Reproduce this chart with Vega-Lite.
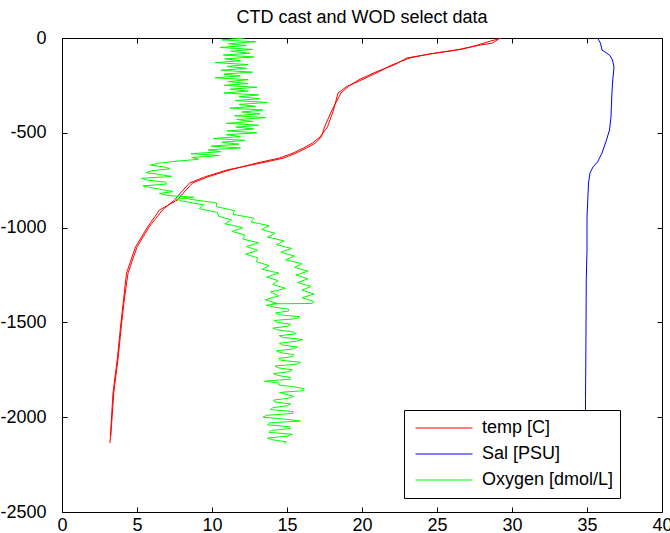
{
"$schema": "https://vega.github.io/schema/vega-lite/v6.json",
"width": 600, "height": 474,
"autosize": {"type": "none"},
"padding": {"left": 62, "top": 38, "right": 8, "bottom": 21},
"background": "white",
"title": {"text": "CTD cast and WOD select data", "fontSize": 18, "font": "Liberation Sans", "fontWeight": "normal", "color": "black", "offset": -12, "baseline": "alphabetic", "anchor": "middle"},
"config": {
  "view": {"stroke": null},
  "axis": {"grid": false, "domainColor": "black", "domainWidth": 1, "tickColor": "black", "tickWidth": 1, "tickSize": -5, "labelColor": "black", "labelFont": "Liberation Sans", "labelFontSize": 18, "title": null, "labelOverlap": false, "labelBound": false, "labelFlush": false}
},
"layer": [
  {
    "data": {"values": [
      {"v":"temp [C]","c":"CTD","d":0,"x":29.2},{"v":"temp [C]","c":"CTD","d":-27,"x":28.7},{"v":"temp [C]","c":"CTD","d":-37,"x":27.9},{"v":"temp [C]","c":"CTD","d":-63,"x":26.3},{"v":"temp [C]","c":"CTD","d":-84,"x":24.5},{"v":"temp [C]","c":"CTD","d":-105,"x":23.2},{"v":"temp [C]","c":"CTD","d":-142,"x":22.0},{"v":"temp [C]","c":"CTD","d":-179,"x":21.1},{"v":"temp [C]","c":"CTD","d":-220,"x":20.0},{"v":"temp [C]","c":"CTD","d":-255,"x":19.0},{"v":"temp [C]","c":"CTD","d":-290,"x":18.4},{"v":"temp [C]","c":"CTD","d":-380,"x":18.1},{"v":"temp [C]","c":"CTD","d":-469,"x":17.7},{"v":"temp [C]","c":"CTD","d":-522,"x":17.2},{"v":"temp [C]","c":"CTD","d":-554,"x":16.7},{"v":"temp [C]","c":"CTD","d":-580,"x":16.1},{"v":"temp [C]","c":"CTD","d":-607,"x":15.4},{"v":"temp [C]","c":"CTD","d":-633,"x":14.5},{"v":"temp [C]","c":"CTD","d":-659,"x":13.0},{"v":"temp [C]","c":"CTD","d":-696,"x":11.2},{"v":"temp [C]","c":"CTD","d":-733,"x":9.7},{"v":"temp [C]","c":"CTD","d":-765,"x":8.7},{"v":"temp [C]","c":"CTD","d":-817,"x":8.1},{"v":"temp [C]","c":"CTD","d":-854,"x":7.7},{"v":"temp [C]","c":"CTD","d":-907,"x":6.5},{"v":"temp [C]","c":"CTD","d":-997,"x":5.7},{"v":"temp [C]","c":"CTD","d":-1102,"x":4.9},{"v":"temp [C]","c":"CTD","d":-1240,"x":4.3},{"v":"temp [C]","c":"CTD","d":-1382,"x":4.1},{"v":"temp [C]","c":"CTD","d":-1524,"x":3.9},{"v":"temp [C]","c":"CTD","d":-1682,"x":3.7},{"v":"temp [C]","c":"CTD","d":-1872,"x":3.4},{"v":"temp [C]","c":"CTD","d":-2136,"x":3.2},
      {"v":"temp [C]","c":"WOD","d":0,"x":29.3},{"v":"temp [C]","c":"WOD","d":-20,"x":28.4},{"v":"temp [C]","c":"WOD","d":-40,"x":27.6},{"v":"temp [C]","c":"WOD","d":-60,"x":26.6},{"v":"temp [C]","c":"WOD","d":-80,"x":24.9},{"v":"temp [C]","c":"WOD","d":-105,"x":23.0},{"v":"temp [C]","c":"WOD","d":-140,"x":22.2},{"v":"temp [C]","c":"WOD","d":-180,"x":20.9},{"v":"temp [C]","c":"WOD","d":-220,"x":19.8},{"v":"temp [C]","c":"WOD","d":-255,"x":19.1},{"v":"temp [C]","c":"WOD","d":-290,"x":18.6},{"v":"temp [C]","c":"WOD","d":-380,"x":18.0},{"v":"temp [C]","c":"WOD","d":-469,"x":17.5},{"v":"temp [C]","c":"WOD","d":-520,"x":17.3},{"v":"temp [C]","c":"WOD","d":-554,"x":16.9},{"v":"temp [C]","c":"WOD","d":-580,"x":16.3},{"v":"temp [C]","c":"WOD","d":-607,"x":15.6},{"v":"temp [C]","c":"WOD","d":-633,"x":14.8},{"v":"temp [C]","c":"WOD","d":-659,"x":13.3},{"v":"temp [C]","c":"WOD","d":-696,"x":11.0},{"v":"temp [C]","c":"WOD","d":-733,"x":9.5},{"v":"temp [C]","c":"WOD","d":-765,"x":8.5},{"v":"temp [C]","c":"WOD","d":-817,"x":7.9},{"v":"temp [C]","c":"WOD","d":-854,"x":7.5},{"v":"temp [C]","c":"WOD","d":-907,"x":6.7},{"v":"temp [C]","c":"WOD","d":-997,"x":5.8},{"v":"temp [C]","c":"WOD","d":-1102,"x":5.0},{"v":"temp [C]","c":"WOD","d":-1240,"x":4.4},{"v":"temp [C]","c":"WOD","d":-1382,"x":4.15},{"v":"temp [C]","c":"WOD","d":-1524,"x":3.95},{"v":"temp [C]","c":"WOD","d":-1682,"x":3.75},{"v":"temp [C]","c":"WOD","d":-1872,"x":3.45},{"v":"temp [C]","c":"WOD","d":-2100,"x":3.25},
      {"v":"Sal [PSU]","c":"CTD","d":0,"x":35.7},{"v":"Sal [PSU]","c":"CTD","d":-27,"x":35.9},{"v":"Sal [PSU]","c":"CTD","d":-63,"x":36.0},{"v":"Sal [PSU]","c":"CTD","d":-90,"x":36.5},{"v":"Sal [PSU]","c":"CTD","d":-116,"x":36.7},{"v":"Sal [PSU]","c":"CTD","d":-153,"x":36.8},{"v":"Sal [PSU]","c":"CTD","d":-237,"x":36.7},{"v":"Sal [PSU]","c":"CTD","d":-311,"x":36.65},{"v":"Sal [PSU]","c":"CTD","d":-416,"x":36.6},{"v":"Sal [PSU]","c":"CTD","d":-485,"x":36.5},{"v":"Sal [PSU]","c":"CTD","d":-538,"x":36.3},{"v":"Sal [PSU]","c":"CTD","d":-607,"x":36.0},{"v":"Sal [PSU]","c":"CTD","d":-654,"x":35.7},{"v":"Sal [PSU]","c":"CTD","d":-680,"x":35.4},{"v":"Sal [PSU]","c":"CTD","d":-712,"x":35.2},{"v":"Sal [PSU]","c":"CTD","d":-765,"x":35.1},{"v":"Sal [PSU]","c":"CTD","d":-944,"x":35.0},{"v":"Sal [PSU]","c":"CTD","d":-1118,"x":35.0},{"v":"Sal [PSU]","c":"CTD","d":-1276,"x":34.95},{"v":"Sal [PSU]","c":"CTD","d":-1600,"x":34.93},{"v":"Sal [PSU]","c":"CTD","d":-1900,"x":34.9},{"v":"Sal [PSU]","c":"CTD","d":-2150,"x":34.9},
      {"v":"Oxygen [dmol/L]","c":"A","d":0,"x":12.2},{"v":"Oxygen [dmol/L]","c":"A","d":-10,"x":10.65},{"v":"Oxygen [dmol/L]","c":"A","d":-20,"x":12.9},{"v":"Oxygen [dmol/L]","c":"A","d":-30,"x":11.1},{"v":"Oxygen [dmol/L]","c":"A","d":-40,"x":12.3},{"v":"Oxygen [dmol/L]","c":"A","d":-50,"x":10.55},{"v":"Oxygen [dmol/L]","c":"A","d":-60,"x":12.7},{"v":"Oxygen [dmol/L]","c":"A","d":-70,"x":11.25},{"v":"Oxygen [dmol/L]","c":"A","d":-80,"x":12.5},{"v":"Oxygen [dmol/L]","c":"A","d":-90,"x":10.75},{"v":"Oxygen [dmol/L]","c":"A","d":-100,"x":12.8},{"v":"Oxygen [dmol/L]","c":"A","d":-110,"x":10.85},{"v":"Oxygen [dmol/L]","c":"A","d":-120,"x":11.9},{"v":"Oxygen [dmol/L]","c":"A","d":-130,"x":10.2},{"v":"Oxygen [dmol/L]","c":"A","d":-140,"x":12.4},{"v":"Oxygen [dmol/L]","c":"A","d":-150,"x":11.0},{"v":"Oxygen [dmol/L]","c":"A","d":-160,"x":12.3},{"v":"Oxygen [dmol/L]","c":"A","d":-170,"x":10.6},{"v":"Oxygen [dmol/L]","c":"A","d":-180,"x":12.7},{"v":"Oxygen [dmol/L]","c":"A","d":-190,"x":10.8},{"v":"Oxygen [dmol/L]","c":"A","d":-200,"x":11.9},{"v":"Oxygen [dmol/L]","c":"A","d":-210,"x":10.2},{"v":"Oxygen [dmol/L]","c":"A","d":-220,"x":12.4},{"v":"Oxygen [dmol/L]","c":"A","d":-230,"x":11.05},{"v":"Oxygen [dmol/L]","c":"A","d":-240,"x":12.4},{"v":"Oxygen [dmol/L]","c":"A","d":-250,"x":10.8},{"v":"Oxygen [dmol/L]","c":"A","d":-260,"x":13.0},{"v":"Oxygen [dmol/L]","c":"A","d":-270,"x":11.2},{"v":"Oxygen [dmol/L]","c":"A","d":-280,"x":12.4},{"v":"Oxygen [dmol/L]","c":"A","d":-290,"x":10.8},{"v":"Oxygen [dmol/L]","c":"A","d":-300,"x":13.1},{"v":"Oxygen [dmol/L]","c":"A","d":-310,"x":11.8},{"v":"Oxygen [dmol/L]","c":"A","d":-320,"x":13.2},{"v":"Oxygen [dmol/L]","c":"A","d":-330,"x":11.55},{"v":"Oxygen [dmol/L]","c":"A","d":-340,"x":13.7},{"v":"Oxygen [dmol/L]","c":"A","d":-350,"x":11.8},{"v":"Oxygen [dmol/L]","c":"A","d":-360,"x":12.9},{"v":"Oxygen [dmol/L]","c":"A","d":-370,"x":11.2},{"v":"Oxygen [dmol/L]","c":"A","d":-380,"x":13.4},{"v":"Oxygen [dmol/L]","c":"A","d":-390,"x":12.0},{"v":"Oxygen [dmol/L]","c":"A","d":-400,"x":13.2},{"v":"Oxygen [dmol/L]","c":"A","d":-410,"x":11.5},{"v":"Oxygen [dmol/L]","c":"A","d":-420,"x":13.6},{"v":"Oxygen [dmol/L]","c":"A","d":-430,"x":11.65},{"v":"Oxygen [dmol/L]","c":"A","d":-440,"x":12.7},{"v":"Oxygen [dmol/L]","c":"A","d":-450,"x":10.95},{"v":"Oxygen [dmol/L]","c":"A","d":-460,"x":13.1},{"v":"Oxygen [dmol/L]","c":"A","d":-470,"x":11.6},{"v":"Oxygen [dmol/L]","c":"A","d":-480,"x":12.8},{"v":"Oxygen [dmol/L]","c":"A","d":-490,"x":11.0},{"v":"Oxygen [dmol/L]","c":"A","d":-500,"x":13.0},{"v":"Oxygen [dmol/L]","c":"A","d":-510,"x":10.95},{"v":"Oxygen [dmol/L]","c":"A","d":-520,"x":11.9},{"v":"Oxygen [dmol/L]","c":"A","d":-530,"x":10.1},{"v":"Oxygen [dmol/L]","c":"A","d":-540,"x":12.2},{"v":"Oxygen [dmol/L]","c":"A","d":-550,"x":10.65},{"v":"Oxygen [dmol/L]","c":"A","d":-560,"x":11.8},{"v":"Oxygen [dmol/L]","c":"A","d":-570,"x":9.95},{"v":"Oxygen [dmol/L]","c":"A","d":-580,"x":11.9},{"v":"Oxygen [dmol/L]","c":"A","d":-590,"x":9.75},{"v":"Oxygen [dmol/L]","c":"A","d":-600,"x":10.6},{"v":"Oxygen [dmol/L]","c":"A","d":-610,"x":8.6},{"v":"Oxygen [dmol/L]","c":"A","d":-620,"x":10.5},{"v":"Oxygen [dmol/L]","c":"A","d":-630,"x":8.65},{"v":"Oxygen [dmol/L]","c":"A","d":-640,"x":9.1},{"v":"Oxygen [dmol/L]","c":"A","d":-650,"x":7.6},{"v":"Oxygen [dmol/L]","c":"A","d":-660,"x":6.5},{"v":"Oxygen [dmol/L]","c":"A","d":-670,"x":5.9},{"v":"Oxygen [dmol/L]","c":"A","d":-680,"x":6.8},{"v":"Oxygen [dmol/L]","c":"A","d":-690,"x":7.2},{"v":"Oxygen [dmol/L]","c":"A","d":-700,"x":6.0},{"v":"Oxygen [dmol/L]","c":"A","d":-710,"x":5.6},{"v":"Oxygen [dmol/L]","c":"A","d":-720,"x":6.5},{"v":"Oxygen [dmol/L]","c":"A","d":-730,"x":7.3},{"v":"Oxygen [dmol/L]","c":"A","d":-740,"x":5.3},{"v":"Oxygen [dmol/L]","c":"A","d":-750,"x":5.7},{"v":"Oxygen [dmol/L]","c":"A","d":-760,"x":6.9},{"v":"Oxygen [dmol/L]","c":"A","d":-770,"x":7.0},{"v":"Oxygen [dmol/L]","c":"A","d":-780,"x":5.4},{"v":"Oxygen [dmol/L]","c":"A","d":-790,"x":6.0},{"v":"Oxygen [dmol/L]","c":"A","d":-800,"x":6.7},{"v":"Oxygen [dmol/L]","c":"A","d":-810,"x":7.4},{"v":"Oxygen [dmol/L]","c":"A","d":-820,"x":6.5},{"v":"Oxygen [dmol/L]","c":"A","d":-830,"x":7.0},{"v":"Oxygen [dmol/L]","c":"A","d":-840,"x":8.8},{"v":"Oxygen [dmol/L]","c":"A","d":-850,"x":7.6},{"v":"Oxygen [dmol/L]","c":"A","d":-860,"x":8.0},{"v":"Oxygen [dmol/L]","c":"A","d":-880,"x":9.45},{"v":"Oxygen [dmol/L]","c":"A","d":-900,"x":9.15},{"v":"Oxygen [dmol/L]","c":"A","d":-920,"x":10.35},{"v":"Oxygen [dmol/L]","c":"A","d":-940,"x":10.45},{"v":"Oxygen [dmol/L]","c":"A","d":-960,"x":11.3},{"v":"Oxygen [dmol/L]","c":"A","d":-980,"x":10.85},{"v":"Oxygen [dmol/L]","c":"A","d":-1000,"x":12.05},{"v":"Oxygen [dmol/L]","c":"A","d":-1020,"x":11.35},{"v":"Oxygen [dmol/L]","c":"A","d":-1040,"x":12.2},{"v":"Oxygen [dmol/L]","c":"A","d":-1060,"x":12.05},{"v":"Oxygen [dmol/L]","c":"A","d":-1080,"x":13.1},{"v":"Oxygen [dmol/L]","c":"A","d":-1100,"x":12.3},{"v":"Oxygen [dmol/L]","c":"A","d":-1120,"x":13.05},{"v":"Oxygen [dmol/L]","c":"A","d":-1140,"x":12.25},{"v":"Oxygen [dmol/L]","c":"A","d":-1160,"x":13.05},{"v":"Oxygen [dmol/L]","c":"A","d":-1180,"x":12.95},{"v":"Oxygen [dmol/L]","c":"A","d":-1200,"x":13.8},{"v":"Oxygen [dmol/L]","c":"A","d":-1220,"x":13.35},{"v":"Oxygen [dmol/L]","c":"A","d":-1240,"x":14.45},{"v":"Oxygen [dmol/L]","c":"A","d":-1260,"x":13.65},{"v":"Oxygen [dmol/L]","c":"A","d":-1280,"x":14.4},{"v":"Oxygen [dmol/L]","c":"A","d":-1300,"x":14.05},{"v":"Oxygen [dmol/L]","c":"A","d":-1320,"x":14.9},{"v":"Oxygen [dmol/L]","c":"A","d":-1340,"x":13.9},{"v":"Oxygen [dmol/L]","c":"A","d":-1360,"x":14.45},{"v":"Oxygen [dmol/L]","c":"A","d":-1380,"x":13.55},{"v":"Oxygen [dmol/L]","c":"A","d":-1400,"x":14.35},{"v":"Oxygen [dmol/L]","c":"A","d":-1410,"x":13.6},{"v":"Oxygen [dmol/L]","c":"A","d":-1420,"x":14.2},{"v":"Oxygen [dmol/L]","c":"A","d":-1430,"x":15.1},{"v":"Oxygen [dmol/L]","c":"A","d":-1440,"x":15.1},{"v":"Oxygen [dmol/L]","c":"A","d":-1450,"x":14.25},{"v":"Oxygen [dmol/L]","c":"A","d":-1460,"x":14.5},{"v":"Oxygen [dmol/L]","c":"A","d":-1470,"x":15.85},{"v":"Oxygen [dmol/L]","c":"A","d":-1480,"x":15.65},{"v":"Oxygen [dmol/L]","c":"A","d":-1490,"x":14.15},{"v":"Oxygen [dmol/L]","c":"A","d":-1500,"x":14.35},{"v":"Oxygen [dmol/L]","c":"A","d":-1510,"x":15.25},{"v":"Oxygen [dmol/L]","c":"A","d":-1520,"x":15.05},{"v":"Oxygen [dmol/L]","c":"A","d":-1530,"x":14.05},{"v":"Oxygen [dmol/L]","c":"A","d":-1540,"x":14.4},{"v":"Oxygen [dmol/L]","c":"A","d":-1550,"x":15.4},{"v":"Oxygen [dmol/L]","c":"A","d":-1560,"x":15.6},{"v":"Oxygen [dmol/L]","c":"A","d":-1570,"x":14.5},{"v":"Oxygen [dmol/L]","c":"A","d":-1580,"x":14.75},{"v":"Oxygen [dmol/L]","c":"A","d":-1590,"x":16.05},{"v":"Oxygen [dmol/L]","c":"A","d":-1600,"x":15.6},{"v":"Oxygen [dmol/L]","c":"A","d":-1610,"x":14.5},{"v":"Oxygen [dmol/L]","c":"A","d":-1620,"x":14.75},{"v":"Oxygen [dmol/L]","c":"A","d":-1630,"x":15.7},{"v":"Oxygen [dmol/L]","c":"A","d":-1640,"x":15.4},{"v":"Oxygen [dmol/L]","c":"A","d":-1650,"x":14.3},{"v":"Oxygen [dmol/L]","c":"A","d":-1660,"x":14.6},{"v":"Oxygen [dmol/L]","c":"A","d":-1670,"x":15.45},{"v":"Oxygen [dmol/L]","c":"A","d":-1680,"x":15.4},{"v":"Oxygen [dmol/L]","c":"A","d":-1690,"x":14.45},{"v":"Oxygen [dmol/L]","c":"A","d":-1700,"x":14.6},{"v":"Oxygen [dmol/L]","c":"A","d":-1710,"x":15.9},{"v":"Oxygen [dmol/L]","c":"A","d":-1720,"x":15.65},{"v":"Oxygen [dmol/L]","c":"A","d":-1730,"x":14.2},{"v":"Oxygen [dmol/L]","c":"A","d":-1740,"x":14.45},{"v":"Oxygen [dmol/L]","c":"A","d":-1750,"x":15.35},{"v":"Oxygen [dmol/L]","c":"A","d":-1760,"x":15.15},{"v":"Oxygen [dmol/L]","c":"A","d":-1770,"x":14.1},{"v":"Oxygen [dmol/L]","c":"A","d":-1780,"x":14.4},{"v":"Oxygen [dmol/L]","c":"A","d":-1790,"x":15.2},{"v":"Oxygen [dmol/L]","c":"A","d":-1800,"x":15.2},{"v":"Oxygen [dmol/L]","c":"A","d":-1810,"x":13.5},{"v":"Oxygen [dmol/L]","c":"A","d":-1820,"x":14.45},{"v":"Oxygen [dmol/L]","c":"A","d":-1830,"x":14.45},{"v":"Oxygen [dmol/L]","c":"A","d":-1840,"x":15.5},{"v":"Oxygen [dmol/L]","c":"A","d":-1850,"x":16.15},{"v":"Oxygen [dmol/L]","c":"A","d":-1860,"x":16.1},{"v":"Oxygen [dmol/L]","c":"A","d":-1870,"x":14.5},{"v":"Oxygen [dmol/L]","c":"A","d":-1880,"x":15.0},{"v":"Oxygen [dmol/L]","c":"A","d":-1890,"x":15.45},{"v":"Oxygen [dmol/L]","c":"A","d":-1900,"x":15.1},{"v":"Oxygen [dmol/L]","c":"A","d":-1910,"x":14.1},{"v":"Oxygen [dmol/L]","c":"A","d":-1920,"x":14.2},{"v":"Oxygen [dmol/L]","c":"A","d":-1930,"x":15.25},{"v":"Oxygen [dmol/L]","c":"A","d":-1940,"x":15.0},{"v":"Oxygen [dmol/L]","c":"A","d":-1950,"x":14.05},{"v":"Oxygen [dmol/L]","c":"A","d":-1960,"x":13.9},{"v":"Oxygen [dmol/L]","c":"A","d":-1970,"x":15.4},{"v":"Oxygen [dmol/L]","c":"A","d":-1980,"x":15.4},{"v":"Oxygen [dmol/L]","c":"A","d":-1990,"x":13.65},{"v":"Oxygen [dmol/L]","c":"A","d":-2000,"x":13.4},{"v":"Oxygen [dmol/L]","c":"A","d":-2010,"x":14.85},{"v":"Oxygen [dmol/L]","c":"A","d":-2020,"x":15.9},{"v":"Oxygen [dmol/L]","c":"A","d":-2030,"x":13.85},{"v":"Oxygen [dmol/L]","c":"A","d":-2040,"x":13.7},{"v":"Oxygen [dmol/L]","c":"A","d":-2050,"x":15.15},{"v":"Oxygen [dmol/L]","c":"A","d":-2060,"x":15.2},{"v":"Oxygen [dmol/L]","c":"A","d":-2070,"x":13.95},{"v":"Oxygen [dmol/L]","c":"A","d":-2080,"x":13.8},{"v":"Oxygen [dmol/L]","c":"A","d":-2090,"x":15.35},{"v":"Oxygen [dmol/L]","c":"A","d":-2100,"x":15.0},{"v":"Oxygen [dmol/L]","c":"A","d":-2110,"x":13.7},{"v":"Oxygen [dmol/L]","c":"A","d":-2120,"x":14.1},{"v":"Oxygen [dmol/L]","c":"A","d":-2130,"x":14.95},{"v":"Oxygen [dmol/L]","c":"A","d":-2140,"x":14.8},
      {"v":"Oxygen [dmol/L]","c":"B","d":-830,"x":7.9},{"v":"Oxygen [dmol/L]","c":"B","d":-850,"x":8.5},{"v":"Oxygen [dmol/L]","c":"B","d":-870,"x":10.3},{"v":"Oxygen [dmol/L]","c":"B","d":-890,"x":10.3},{"v":"Oxygen [dmol/L]","c":"B","d":-910,"x":11.5},{"v":"Oxygen [dmol/L]","c":"B","d":-930,"x":11.4},{"v":"Oxygen [dmol/L]","c":"B","d":-950,"x":12.8},{"v":"Oxygen [dmol/L]","c":"B","d":-970,"x":12.6},{"v":"Oxygen [dmol/L]","c":"B","d":-990,"x":13.8},{"v":"Oxygen [dmol/L]","c":"B","d":-1010,"x":13.3},{"v":"Oxygen [dmol/L]","c":"B","d":-1030,"x":14.2},{"v":"Oxygen [dmol/L]","c":"B","d":-1050,"x":13.7},{"v":"Oxygen [dmol/L]","c":"B","d":-1070,"x":14.8},{"v":"Oxygen [dmol/L]","c":"B","d":-1090,"x":14.3},{"v":"Oxygen [dmol/L]","c":"B","d":-1110,"x":15.3},{"v":"Oxygen [dmol/L]","c":"B","d":-1130,"x":14.6},{"v":"Oxygen [dmol/L]","c":"B","d":-1150,"x":15.5},{"v":"Oxygen [dmol/L]","c":"B","d":-1170,"x":14.9},{"v":"Oxygen [dmol/L]","c":"B","d":-1190,"x":16.0},{"v":"Oxygen [dmol/L]","c":"B","d":-1210,"x":15.5},{"v":"Oxygen [dmol/L]","c":"B","d":-1230,"x":16.4},{"v":"Oxygen [dmol/L]","c":"B","d":-1250,"x":15.6},{"v":"Oxygen [dmol/L]","c":"B","d":-1270,"x":16.4},{"v":"Oxygen [dmol/L]","c":"B","d":-1290,"x":15.7},{"v":"Oxygen [dmol/L]","c":"B","d":-1310,"x":16.6},{"v":"Oxygen [dmol/L]","c":"B","d":-1330,"x":16.0},{"v":"Oxygen [dmol/L]","c":"B","d":-1350,"x":16.8},{"v":"Oxygen [dmol/L]","c":"B","d":-1370,"x":16.0},{"v":"Oxygen [dmol/L]","c":"B","d":-1390,"x":16.8},{"v":"Oxygen [dmol/L]","c":"B","d":-1400,"x":16.7},{"v":"Oxygen [dmol/L]","c":"B","d":-1402,"x":14.0}
    ]},
    "mark": {"type": "line", "strokeWidth": 1, "clip": true},
    "encoding": {
      "x": {"field": "x", "type": "quantitative", "scale": {"domain": [0, 40], "nice": false, "zero": false}, "axis": {"orient": "bottom", "values": [0,5,10,15,20,25,30,35,40], "labelPadding": 9}},
      "y": {"field": "d", "type": "quantitative", "scale": {"domain": [-2500, 0], "nice": false, "zero": false}, "axis": {"orient": "left", "values": [-2500,-2000,-1500,-1000,-500,0], "labelPadding": 21, "labelExpr": "datum.value == 0 ? '0' : '-' + abs(datum.value)"}},
      "color": {"field": "v", "type": "nominal", "scale": {"domain": ["temp [C]", "Sal [PSU]", "Oxygen [dmol/L]"], "range": ["#ff0000", "#0000ff", "#00ff00"]},
        "legend": {"title": null, "orient": "none", "legendX": 342, "legendY": 372, "symbolType": "stroke", "symbolSize": 3249, "symbolStrokeWidth": 1, "clipHeight": 24, "padding": 6, "symbolOffset": 5, "labelOffset": 9, "labelFont": "Liberation Sans", "labelFontSize": 18, "labelColor": "black", "strokeColor": "black", "fillColor": "white", "labelLimit": 0}},
      "detail": {"field": "c"},
      "order": {"field": "d", "sort": "descending"}
    }
  },
  {
    "data": {"values": [{"x": 0, "d": 0}]},
    "mark": {"type": "point", "opacity": 0},
    "encoding": {
      "x": {"field": "x", "type": "quantitative", "axis": {"orient": "top", "values": [0,5,10,15,20,25,30,35,40], "labels": false}},
      "y": {"field": "d", "type": "quantitative", "axis": {"orient": "right", "values": [-2500,-2000,-1500,-1000,-500,0], "labels": false}}
    }
  }
],
"resolve": {"axis": {"x": "independent", "y": "independent"}}
}
